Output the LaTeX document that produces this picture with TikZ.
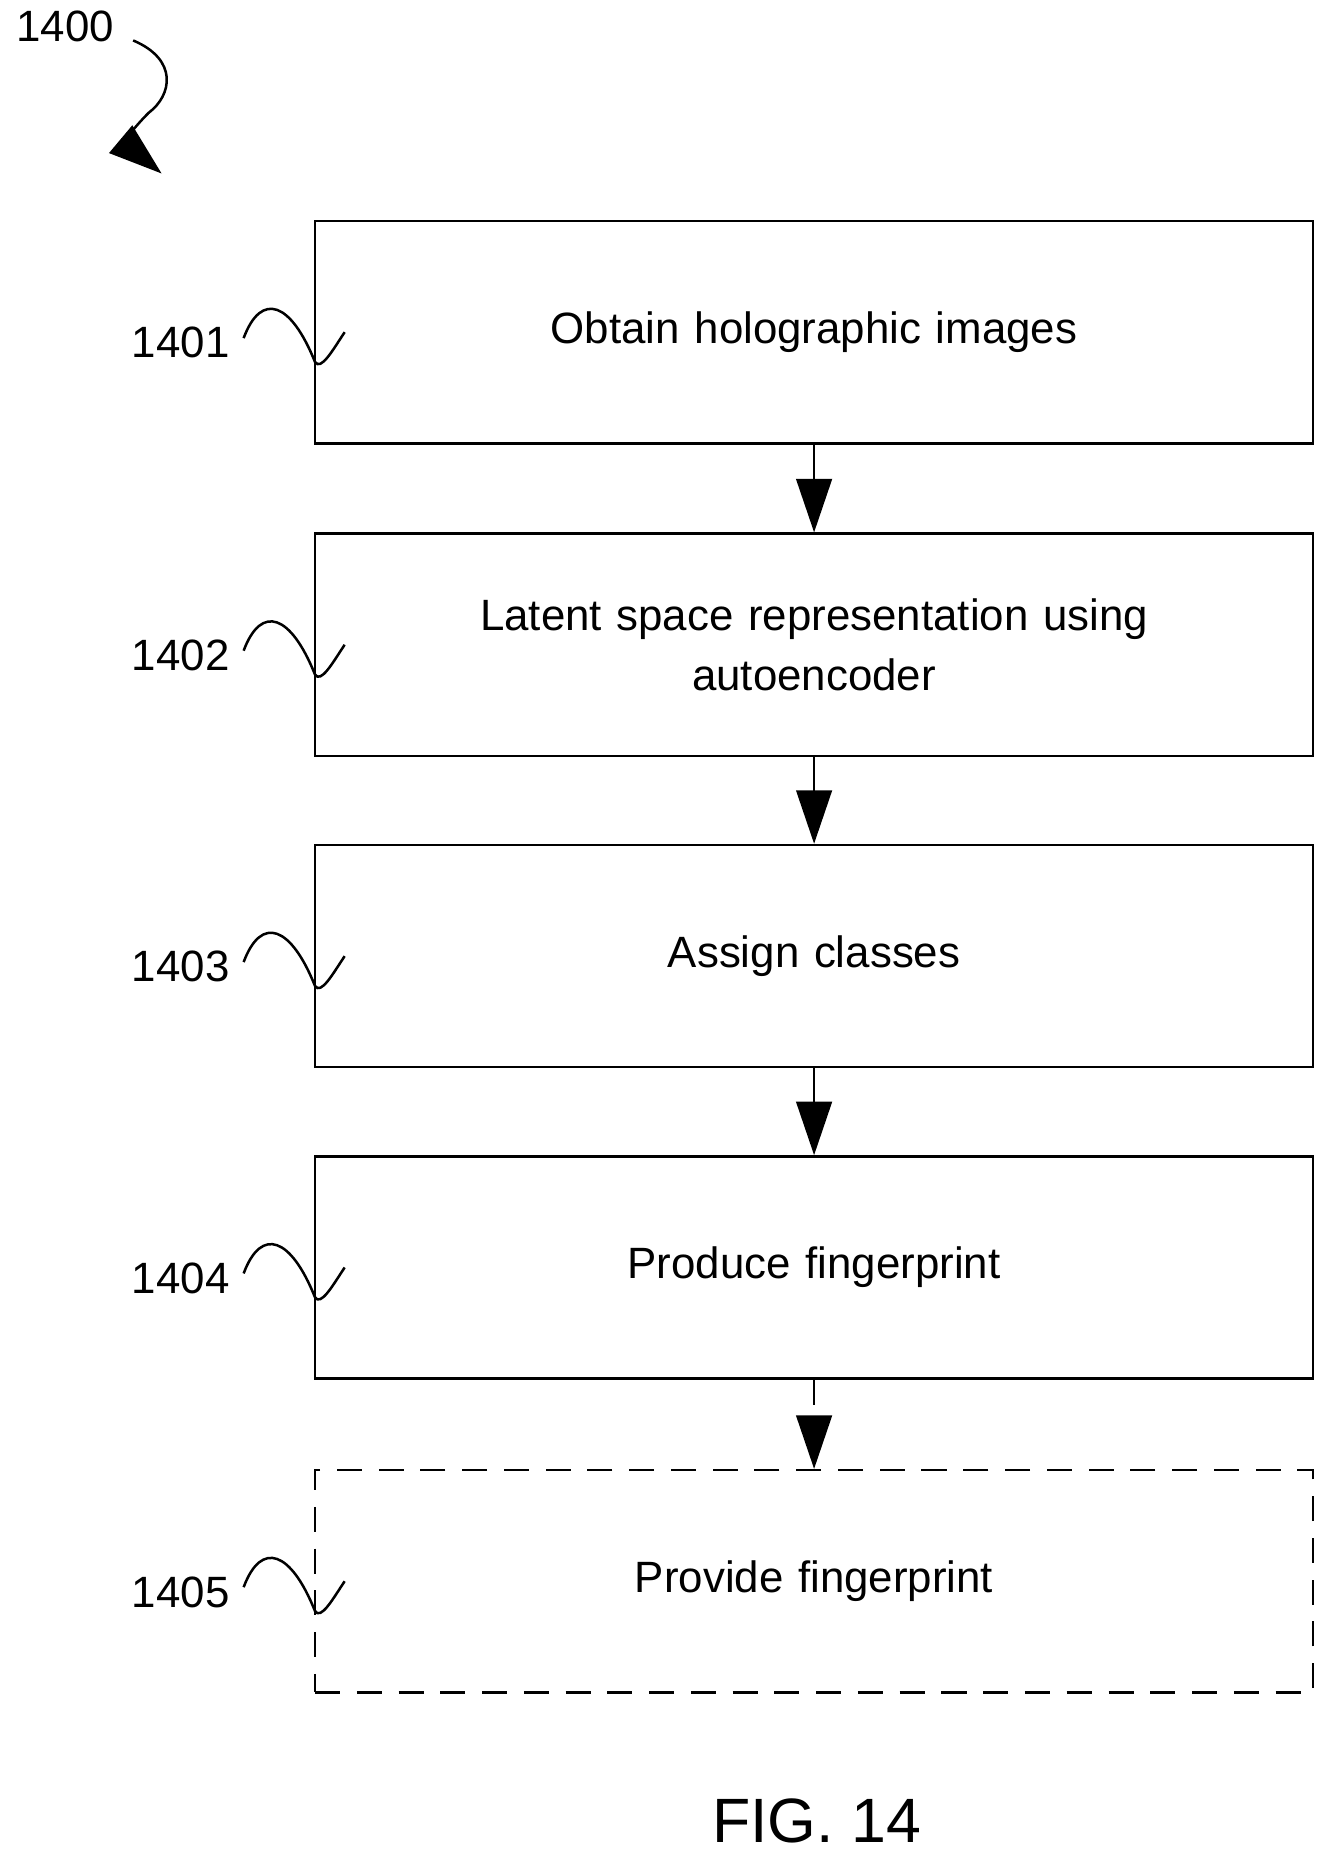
\documentclass[tikz,border=0pt]{standalone}
\usepackage{fontspec}
\setmainfont{Liberation Sans}
\usetikzlibrary{arrows.meta, positioning}
\tikzstyle{stepbox} = [rectangle,
minimum width=16.8cm,
minimum height=3.74cm,
text width=15cm,
align=center,
draw=black,
line width=1.2pt,
font=\fontsize{21}{29}\selectfont]
\tikzstyle{flow} = [-{Triangle[length=9mm,width=6mm]}, line width=1.2pt]
\tikzstyle{refnum} = [font=\fontsize{21}{25}\selectfont]

\begin{document}
\begin{tikzpicture}[x=0.02cm, y=-0.02cm]
\useasboundingbox (0,0) rectangle (1130,1576);

\node (s1) [stepbox] at (685,279.5) {Obtain holographic images};
\node (s2) [stepbox] at (685,542.5) {Latent space representation using\\autoencoder};
\node (s3) [stepbox] at (685,804.5) {Assign classes};
\node (s4) [stepbox] at (685,1066.5) {Produce fingerprint};
\node (s5) [stepbox, dashed, dash pattern=on 12pt off 8pt] at (685,1330.5) {Provide fingerprint};

\draw[flow] (s1) -- (s2);
\draw[flow] (s2) -- (s3);
\draw[flow] (s3) -- (s4);
\draw[flow, dashed, dash pattern=on 12pt off 8pt] (s4) -- (s5);

% reference numerals with squiggles
\foreach \i/\y in {1/279.5,2/542.5,3/804.5,4/1066.5,5/1330.5} {
  \node (r\i) [refnum] at (152,\y+9) {140\i};
  \draw[line width=1.2pt] (205,\y+5) .. controls (220,\y-35) and (245,\y-25) .. (265,\y+25)
    .. controls (270,\y+33) and (280,\y+15) .. (290,\y);
}

\node (fig) [refnum] at (55,22) {1400};
\coordinate (tip) at (136,146);
\draw[-{Triangle[length=9mm,width=6mm]}, line width=1.2pt] (112,34) .. controls (150,50) and (145,80) .. (125,95)
  .. controls (110,110) and (105,120) .. (tip);

\node (cap) [font=\fontsize{30}{34}\selectfont] at (687,1532) {FIG. 14};
\end{tikzpicture}
\end{document}
